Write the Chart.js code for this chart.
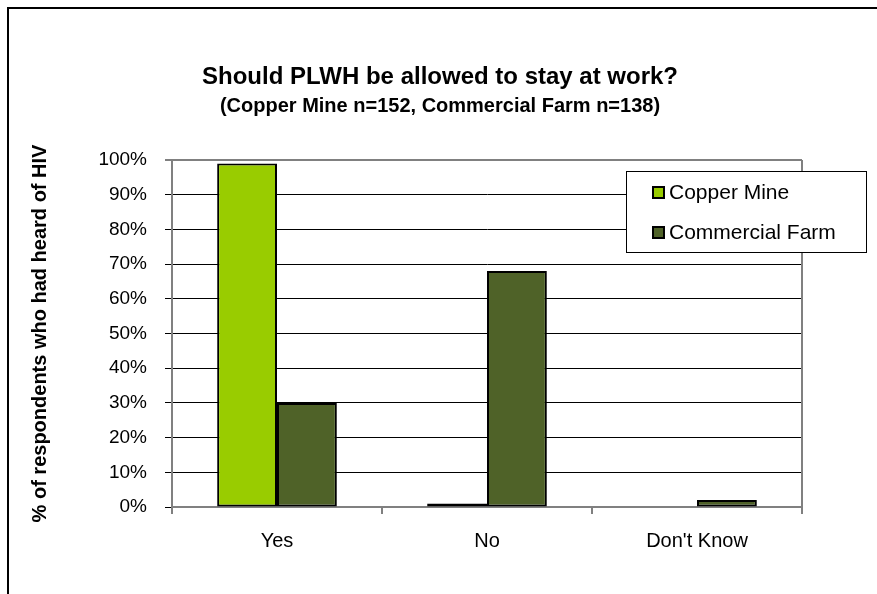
<!DOCTYPE html>
<html>
<head>
<meta charset="utf-8">
<script src="https://cdn.jsdelivr.net/npm/chart.js@4.4.1/dist/chart.umd.min.js"></script>
<style>
  html, body { margin: 0; padding: 0; background: #fff; }
  canvas { display: block; }
</style>
</head>
<body>
<canvas id="chart" width="877" height="594"></canvas>
<script>
// Data
const categories = ["Yes", "No", "Don't Know"];
const copperMine = [99, 1, 0];
const commercialFarm = [30, 68, 2];
const seriesNames = ["Copper Mine", "Commercial Farm"];
const seriesColors = ["#99CC00", "#4F6228"];

const FONT = "'Liberation Sans', Arial, sans-serif";
Chart.defaults.font.family = FONT;

// titles, outer frame, plot frame and the boxed legend
const decorations = {
  id: "decorations",
  beforeDraw(chart) {
    const ctx = chart.ctx;
    ctx.save();
    ctx.fillStyle = "#fff";
    ctx.fillRect(0, 0, chart.width, chart.height);
    ctx.restore();
  },
  afterDraw(chart) {
    const ctx = chart.ctx;
    const area = chart.chartArea;
    ctx.save();

    // outer frame (only left and top are in view)
    ctx.strokeStyle = "#000";
    ctx.lineWidth = 2;
    ctx.strokeRect(8, 8, chart.width + 20, chart.height + 20);

    // plot frame right side
    ctx.strokeStyle = "#808080";
    ctx.lineWidth = 2;
    ctx.beginPath();
    ctx.moveTo(area.right, area.top);
    ctx.lineTo(area.right, area.bottom);
    ctx.stroke();

    // titles
    ctx.fillStyle = "#000";
    ctx.textAlign = "center";
    ctx.textBaseline = "middle";
    ctx.font = "bold 24px " + FONT;
    ctx.fillText("Should PLWH be allowed to stay at work?", 440, 77);
    ctx.font = "bold 20px " + FONT;
    ctx.fillText("(Copper Mine n=152, Commercial Farm n=138)", 440, 106);

    // y axis title
    ctx.save();
    ctx.translate(40, (area.top + area.bottom) / 2);
    ctx.rotate(-Math.PI / 2);
    ctx.font = "bold 20px " + FONT;
    ctx.fillText("% of respondents who had heard of HIV", 0, 0);
    ctx.restore();

    // legend
    const lx = 626, ly = 171, lw = 240, lh = 81;
    ctx.fillStyle = "#fff";
    ctx.fillRect(lx, ly, lw, lh);
    ctx.strokeStyle = "#000";
    ctx.lineWidth = 1;
    ctx.strokeRect(lx + 0.5, ly + 0.5, lw, lh);
    ctx.textAlign = "left";
    ctx.font = "21px " + FONT;
    seriesNames.forEach((name, i) => {
      const cy = ly + 21 + i * 40;
      ctx.fillStyle = seriesColors[i];
      ctx.fillRect(653, cy - 5, 11, 11);
      ctx.strokeStyle = "#000";
      ctx.lineWidth = 2;
      ctx.strokeRect(653, cy - 5, 11, 11);
      ctx.fillStyle = "#000";
      ctx.fillText(name, 669, cy + 1);
    });

    ctx.restore();
  }
};

new Chart(document.getElementById("chart"), {
  type: "bar",
  data: {
    labels: categories,
    datasets: [
      {
        label: seriesNames[0],
        data: copperMine,
        backgroundColor: seriesColors[0],
        borderColor: "#000",
        borderWidth: 2,
        borderSkipped: false
      },
      {
        label: seriesNames[1],
        data: commercialFarm,
        backgroundColor: seriesColors[1],
        borderColor: "#000",
        borderWidth: 2,
        borderSkipped: false
      }
    ]
  },
  options: {
    responsive: false,
    animation: false,
    devicePixelRatio: 1,
    categoryPercentage: 0.57,
    barPercentage: 1,
    layout: { padding: { left: 0, right: 75, top: 160, bottom: 0 } },
    plugins: {
      legend: { display: false },
      title: { display: false },
      tooltip: { enabled: false }
    },
    scales: {
      x: {
        grid: {
          display: true,
          drawOnChartArea: false,
          offset: true,
          tickLength: 7,
          color: "#808080",
          lineWidth: 2
        },
        border: { color: "#808080", width: 2 },
        ticks: { color: "#000", font: { size: 20 }, padding: 15 },
        afterFit(s) { s.height = 87; }
      },
      y: {
        min: 0,
        max: 100,
        ticks: {
          stepSize: 10,
          color: "#000",
          font: { size: 19 },
          padding: 18,
          callback: v => v + "%"
        },
        grid: {
          color: c => (c.tick && c.tick.value === 100 ? "#808080" : "#000"),
          lineWidth: c => (c.tick && c.tick.value === 100 ? 2 : 1),
          tickLength: 7
        },
        border: { color: "#808080", width: 2 },
        afterFit(s) { s.width = 172; }
      }
    }
  },
  plugins: [decorations]
});
</script>
</body>
</html>
